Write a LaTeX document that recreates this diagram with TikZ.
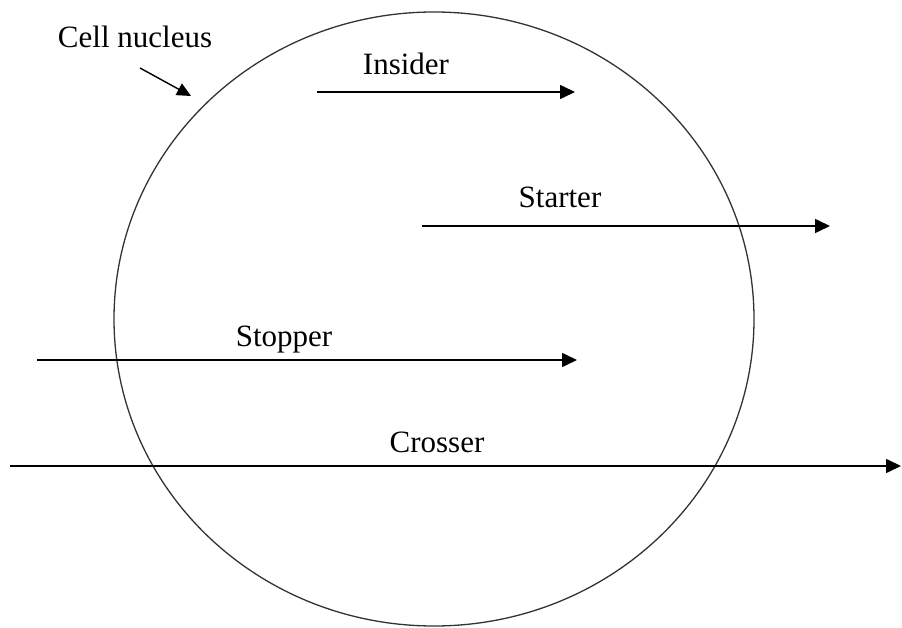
\documentclass[tikz,border=0pt]{standalone}
\usepackage{fontspec}
\setmainfont{Liberation Serif}
\usetikzlibrary{arrows.meta,shapes.geometric}

\tikzset{
  label text/.style={font=\fontsize{31}{36}\selectfont, inner sep=0pt, anchor=base},
  flow/.style={line width=1.6pt, -{Triangle[length=15pt,width=14pt]}},
  pointer/.style={line width=1.4pt, -{Triangle[length=14pt,width=13pt]}},
  membrane/.style={ellipse, draw=black!80, line width=1.3pt, inner sep=0pt,
                   minimum width=640pt, minimum height=614pt}
}

\begin{document}
\begin{tikzpicture}[x=1pt,y=-1pt]
  \useasboundingbox (0,0) rectangle (902,628);
  \fill[white] (0,0) rectangle (902,628);

  % the nucleus
  \node[membrane] (nucleus) at (434,319) {};

  % caption and its pointer
  \node[label text] (cellname) at (135,48) {Cell nucleus};
  \coordinate (ptrstart) at (140,68);
  \coordinate (ptrend) at (191,96);
  \draw[pointer] (ptrstart) -- (ptrend);

  % Insider: starts and ends inside
  \node[label text] (insidername) at (406,75) {Insider};
  \coordinate (ins-a) at (317,92);
  \coordinate (ins-b) at (575,92);
  \draw[flow] (ins-a) -- (ins-b);

  % Starter: starts inside, leaves
  \node[label text] (startername) at (560,208) {Starter};
  \coordinate (sta-a) at (422,226);
  \coordinate (sta-b) at (830,226);
  \draw[flow] (sta-a) -- (sta-b);

  % Stopper: enters, ends inside
  \node[label text] (stoppername) at (284,346) {Stopper};
  \coordinate (sto-a) at (37,360);
  \coordinate (sto-b) at (577,360);
  \draw[flow] (sto-a) -- (sto-b);

  % Crosser: passes straight through
  \node[label text] (crossername) at (437,452) {Crosser};
  \coordinate (cro-a) at (10,466);
  \coordinate (cro-b) at (901,466);
  \draw[flow] (cro-a) -- (cro-b);
\end{tikzpicture}
\end{document}
